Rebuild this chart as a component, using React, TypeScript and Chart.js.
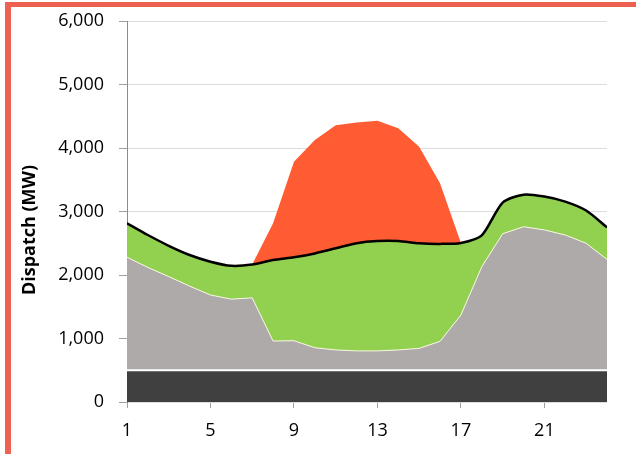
import React, { useEffect, useRef } from "react";
import { Chart, registerables } from "chart.js";

Chart.register(...registerables);

// Hour of day
const hours = [1, 2, 3, 4, 5, 6, 7, 8, 9, 10, 11, 12, 13, 14, 15, 16, 17, 18, 19, 20, 21, 22, 23, 24];
// Dark base band (MW)
const baseMW = [500, 500, 500, 500, 500, 500, 500, 500, 500, 500, 500, 500, 500, 500, 500, 500, 500, 500, 500, 500, 500, 500, 500, 500];
// Top of grey band (MW)
const grayTopMW = [2280, 2120, 1975, 1825, 1685, 1620, 1640, 960, 965, 855, 820, 805, 805, 820, 845, 955, 1370, 2130, 2650, 2760, 2710, 2630, 2500, 2245];
// Black line / top of green band (MW)
const demandMW = [2815, 2630, 2460, 2315, 2210, 2145, 2165, 2235, 2280, 2340, 2420, 2500, 2535, 2535, 2500, 2490, 2505, 2625, 3140, 3265, 3235, 3155, 3015, 2750];
// Top of red band (MW)
const redTopMW = [null, null, null, null, null, null, 2165, 2815, 3785, 4125, 4360, 4400, 4430, 4310, 4020, 3445, 2505, null, null, null, null, null, null, null];

const xTickValues = [1, 5, 9, 13, 17, 21];
const yAxisTitle = "Dispatch (MW)";

const toPoints = (arr: (number | null)[]) => hours.map((h, i) => ({ x: h, y: arr[i] }));

const FONT = "'Open Sans', 'DejaVu Sans', sans-serif";

export default function App() {
  const canvasRef = useRef<HTMLCanvasElement | null>(null);

  useEffect(() => {
    const canvas = canvasRef.current;
    if (!canvas) return;

    const titlePlugin = {
      id: "yTitle",
      afterDraw(chart: any) {
        const ctx = chart.ctx;
        ctx.save();
        ctx.translate(30, 230);
        ctx.rotate(-Math.PI / 2);
        ctx.font = `bold 18px ${FONT}`;
        ctx.fillStyle = "#000";
        ctx.textAlign = "center";
        ctx.textBaseline = "middle";
        ctx.fillText(yAxisTitle, 0, 0);
        ctx.restore();
      },
    };

    const chart = new Chart(canvas, {
      type: "line",
      data: {
        datasets: [
          {
            label: "Base",
            data: toPoints(baseMW),
            fill: "origin",
            backgroundColor: "#404040",
            borderColor: "#ffffff",
            borderWidth: 2,
            pointRadius: 0,
            tension: 0,
            order: 1,
          },
          {
            label: "Grey",
            data: toPoints(grayTopMW),
            fill: 0,
            backgroundColor: "#aeaaaa",
            borderColor: "rgba(250,250,225,0.95)",
            borderWidth: 1,
            pointRadius: 0,
            tension: 0,
            order: 2,
          },
          {
            label: "Green",
            data: toPoints(demandMW),
            fill: 1,
            backgroundColor: "#92d050",
            borderColor: "#000000",
            borderWidth: 2.5,
            pointRadius: 0,
            tension: 0.25,
            order: 3,
          },
          {
            label: "Red",
            data: toPoints(redTopMW),
            fill: 2,
            backgroundColor: "#ff5c33",
            borderColor: "rgba(0,0,0,0)",
            borderWidth: 0,
            pointRadius: 0,
            tension: 0,
            spanGaps: false,
            order: 4,
          },
        ],
      },
      options: {
        animation: false,
        responsive: false,
        devicePixelRatio: 1,
        layout: { padding: { top: 21, right: 29, left: 0, bottom: 0 } },
        plugins: {
          legend: { display: false },
          tooltip: { enabled: false },
        },
        scales: {
          x: {
            type: "linear",
            min: 1,
            max: 24,
            afterBuildTicks: (s: any) => {
              s.ticks = xTickValues.map((v) => ({ value: v }));
            },
            afterFit: (s: any) => {
              s.height = 52;
              s.paddingLeft = 0;
              s.paddingRight = 0;
            },
            ticks: {
              autoSkip: false,
              maxRotation: 0,
              padding: 12,
              color: "#000",
              font: { family: FONT, size: 18 },
            },
            grid: {
              drawOnChartArea: false,
              drawTicks: true,
              tickLength: 6,
              color: "#a0a0a0",
            },
            border: { display: false },
          },
          y: {
            min: 0,
            max: 6000,
            afterFit: (s: any) => {
              s.width = 127;
              s.paddingTop = 0;
              s.paddingBottom = 0;
            },
            ticks: {
              stepSize: 1000,
              padding: 15,
              color: "#000",
              font: { family: FONT, size: 18 },
              callback: (v: any) => Number(v).toLocaleString("en-US"),
            },
            grid: {
              color: "#dcdcdc",
              lineWidth: 1,
              tickColor: "#a0a0a0",
              tickLength: 8,
            },
            border: { display: true, color: "#8c8c8c", width: 1 },
          },
        },
      },
      plugins: [titlePlugin],
    });

    return () => chart.destroy();
  }, []);

  return (
    <div
      style={{
        position: "fixed",
        left: 0,
        top: 0,
        width: 636,
        height: 454,
        background: "#ffffff",
        overflow: "hidden",
      }}
    >
      <canvas ref={canvasRef} width={636} height={454} style={{ display: "block", width: 636, height: 454 }} />
      <div style={{ position: "absolute", left: 5, top: 2, width: 631, height: 5, background: "#ec6150" }} />
      <div style={{ position: "absolute", left: 5, top: 2, width: 6, height: 452, background: "#ec6150" }} />
    </div>
  );
}
